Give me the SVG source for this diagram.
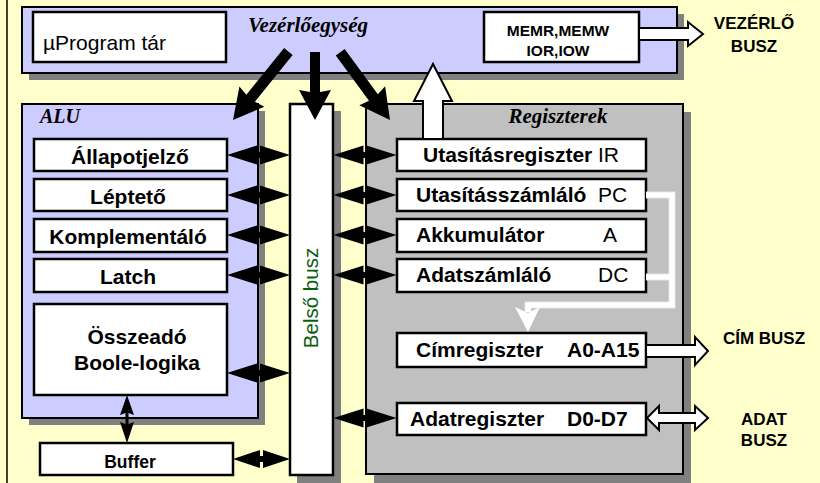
<svg xmlns="http://www.w3.org/2000/svg" xmlns:xlink="http://www.w3.org/1999/xlink" width="820" height="483" viewBox="0 0 820 483">
<style>
.bg{fill:#FFFFCC}
.lav{fill:#CCCCFF;stroke:#000;stroke-width:2}
.gry{fill:#C0C0C0;stroke:#000;stroke-width:2}
.sh{fill:#808080}
.wb{fill:#fff;stroke:#000;stroke-width:2.5}
.t{font-family:"Liberation Sans",Arial,sans-serif;fill:#000}
.b{font-weight:bold}
.ti{font-family:"Liberation Serif","Times New Roman",serif;font-weight:bold;font-style:italic;fill:#000}
.blk{fill:#000}
.wa{fill:#fff;stroke:#000;stroke-width:2;stroke-linejoin:miter}
</style>
<defs>
<path id="dbl" d="M-31.5,0 L-1.5,-9.5 L-1.5,-3 L1.5,-3 L1.5,-9.5 L31.5,0 L1.5,9.5 L1.5,3 L-1.5,3 L-1.5,9.5 Z"/>
<path id="dblS" d="M-28.5,0 L-1.5,-9 L-1.5,-3 L1.5,-3 L1.5,-9 L28.5,0 L1.5,9 L1.5,3 L-1.5,3 L-1.5,9 Z"/>
</defs>
<rect class="bg" x="0" y="0" width="820" height="483"/>
<line x1="7" y1="0" x2="7" y2="483" stroke="#000" stroke-width="1.5"/>

<g id="vezerlo">
<rect class="sh" x="29" y="14" width="655" height="66"/>
<rect class="lav" x="22" y="7" width="655" height="66"/>
<text class="ti" x="308" y="32" font-size="21" text-anchor="middle">Vezérlőegység</text>
</g>
<g id="uprogram">
<rect class="wb" x="33" y="12" width="193" height="50"/>
<text class="t" x="43" y="50" font-size="21">µProgram tár</text>
</g>
<g id="memr">
<rect class="wb" x="484" y="12" width="155" height="50"/>
<text class="t b" x="558" y="36" font-size="15.5" text-anchor="middle">MEMR,MEMW</text>
<text class="t b" x="558" y="56" font-size="15.5" text-anchor="middle">IOR,IOW</text>
</g>
<g id="vezerlo-busz">
<text class="t b" x="754" y="29" font-size="17" text-anchor="middle">VEZÉRLŐ</text>
<text class="t b" x="754" y="52" font-size="17" text-anchor="middle">BUSZ</text>
</g>

<g id="alu">
<rect class="sh" x="29" y="111" width="236" height="314"/>
<rect class="lav" x="22" y="104" width="236" height="314"/>
<text class="ti" x="40" y="123" font-size="20">ALU</text>
</g>
<g id="allapotjelzo">
<rect class="wb" x="34" y="139" width="193" height="32"/>
<text class="t b" x="130" y="164" font-size="21" text-anchor="middle">Állapotjelző</text>
</g>
<g id="lepteto">
<rect class="wb" x="34" y="179" width="193" height="32"/>
<text class="t b" x="128" y="204" font-size="21" text-anchor="middle">Léptető</text>
</g>
<g id="komplementalo">
<rect class="wb" x="34" y="219" width="193" height="33"/>
<text class="t b" x="128" y="244" font-size="21" text-anchor="middle">Komplementáló</text>
</g>
<g id="latch">
<rect class="wb" x="34" y="259" width="193" height="33"/>
<text class="t b" x="128" y="284" font-size="21" text-anchor="middle">Latch</text>
</g>
<g id="osszeado">
<rect class="wb" x="34" y="304" width="193" height="91"/>
<text class="t b" x="137" y="344" font-size="21" text-anchor="middle">Összeadó</text>
<text class="t b" x="137" y="370" font-size="21" text-anchor="middle">Boole-logika</text>
</g>
<g id="buffer">
<rect class="wb" x="40" y="443" width="193" height="32"/>
<text class="t b" x="130" y="468" font-size="17.5" text-anchor="middle">Buffer</text>
</g>

<g id="belso-busz">
<rect class="sh" x="297" y="111" width="44" height="372"/>
<rect class="wb" x="290" y="104" width="43" height="371" stroke-width="2"/>
<text class="t" transform="translate(318,298) rotate(-90)" font-size="20.5" style="fill:#0B5E0B" text-anchor="middle">Belső busz</text>
</g>

<g id="regiszterek">
<rect class="sh" x="374" y="112" width="317" height="371"/>
<rect class="gry" x="366" y="104" width="317" height="370"/>
<text class="ti" x="558" y="123" font-size="21" text-anchor="middle">Regiszterek</text>
</g>
<g id="ir">
<rect class="wb" x="397" y="139" width="249" height="32"/>
<text class="t b" x="423" y="162" font-size="21">Utasításregiszter</text>
<text class="t" x="598" y="162" font-size="21">IR</text>
</g>
<g id="pc">
<rect class="wb" x="397" y="179" width="249" height="32"/>
<text class="t b" x="416" y="202" font-size="21">Utasításszámláló</text>
<text class="t" x="598" y="202" font-size="21">PC</text>
</g>
<g id="akku">
<rect class="wb" x="397" y="219" width="249" height="33"/>
<text class="t b" x="416" y="242" font-size="21">Akkumulátor</text>
<text class="t" x="603" y="242" font-size="21">A</text>
</g>
<g id="dc">
<rect class="wb" x="397" y="259" width="249" height="33"/>
<text class="t b" x="416" y="282" font-size="21">Adatszámláló</text>
<text class="t" x="598" y="282" font-size="21">DC</text>
</g>
<g id="cimregiszter">
<rect class="wb" x="397" y="333" width="249" height="34"/>
<text class="t b" x="416" y="357" font-size="21">Címregiszter</text>
<text class="t b" x="567" y="357" font-size="21">A0-A15</text>
</g>
<g id="adatregiszter">
<rect class="wb" x="397" y="403" width="249" height="32"/>
<text class="t b" x="410" y="426" font-size="21">Adatregiszter</text>
<text class="t b" x="567" y="426" font-size="21">D0-D7</text>
</g>
<g id="cim-busz">
<text class="t b" x="764" y="344" font-size="17" text-anchor="middle">CÍM BUSZ</text>
</g>
<g id="adat-busz">
<text class="t b" x="764" y="425" font-size="17" text-anchor="middle">ADAT</text>
<text class="t b" x="764" y="446" font-size="17" text-anchor="middle">BUSZ</text>
</g>

<g id="connectors">
<polygon class="blk" transform="translate(233,120) rotate(128.97)" points="0,0 -30,-16 -28,-5.5 -88,-5.5 -88,5.5 -28,5.5 -30,16"/>
<polygon class="blk" transform="translate(315,120) rotate(90)" points="0,0 -30,-16 -28,-5 -68,-5 -68,5 -28,5 -30,16"/>
<polygon class="blk" transform="translate(390,120) rotate(53.67)" points="0,0 -30,-16 -28,-5.5 -84,-5.5 -84,5.5 -28,5.5 -30,16"/>
<polygon class="wa" points="423,139 423,101 414,101 433,64 452,101 443,101 443,139"/>
<polygon class="wa" points="639,28 688,28 688,22 703,34 688,46 688,40 639,40"/>
<polygon class="wa" points="646,345 695,345 695,337 708,351 695,365 695,357 646,357"/>
<polygon class="wa" points="647,418 659,406 659,413 695,413 695,406 708,418 695,430 695,423 659,423 659,430"/>
<path d="M646,195 H672 V305 H528 V312 M646,277 H672" fill="none" stroke="#E8E8E8" stroke-width="7"/>
<path d="M646,195 H672 V305 H528 V312 M646,277 H672" fill="none" stroke="#fff" stroke-width="5"/>
<polygon points="515,307 528,332 540,307 528,313" fill="#fff"/>
<use xlink:href="#dbl" href="#dbl" x="258.5" y="155"/>
<use xlink:href="#dbl" href="#dbl" x="258.5" y="195"/>
<use xlink:href="#dbl" href="#dbl" x="258.5" y="235"/>
<use xlink:href="#dbl" href="#dbl" x="258.5" y="275"/>
<use xlink:href="#dbl" href="#dbl" x="258.5" y="373"/>
<use xlink:href="#dblS" href="#dblS" x="261.5" y="459"/>
<use xlink:href="#dbl" href="#dbl" x="365" y="155"/>
<use xlink:href="#dbl" href="#dbl" x="365" y="195"/>
<use xlink:href="#dbl" href="#dbl" x="365" y="235"/>
<use xlink:href="#dbl" href="#dbl" x="365" y="275"/>
<use xlink:href="#dbl" href="#dbl" x="365" y="418"/>
<path class="blk" d="M127,395 L134,415 L128.5,413 L128.5,424 L134,422 L127,443 L120,422 L125.5,424 L125.5,413 L120,415 Z"/>
</g>
</svg>
